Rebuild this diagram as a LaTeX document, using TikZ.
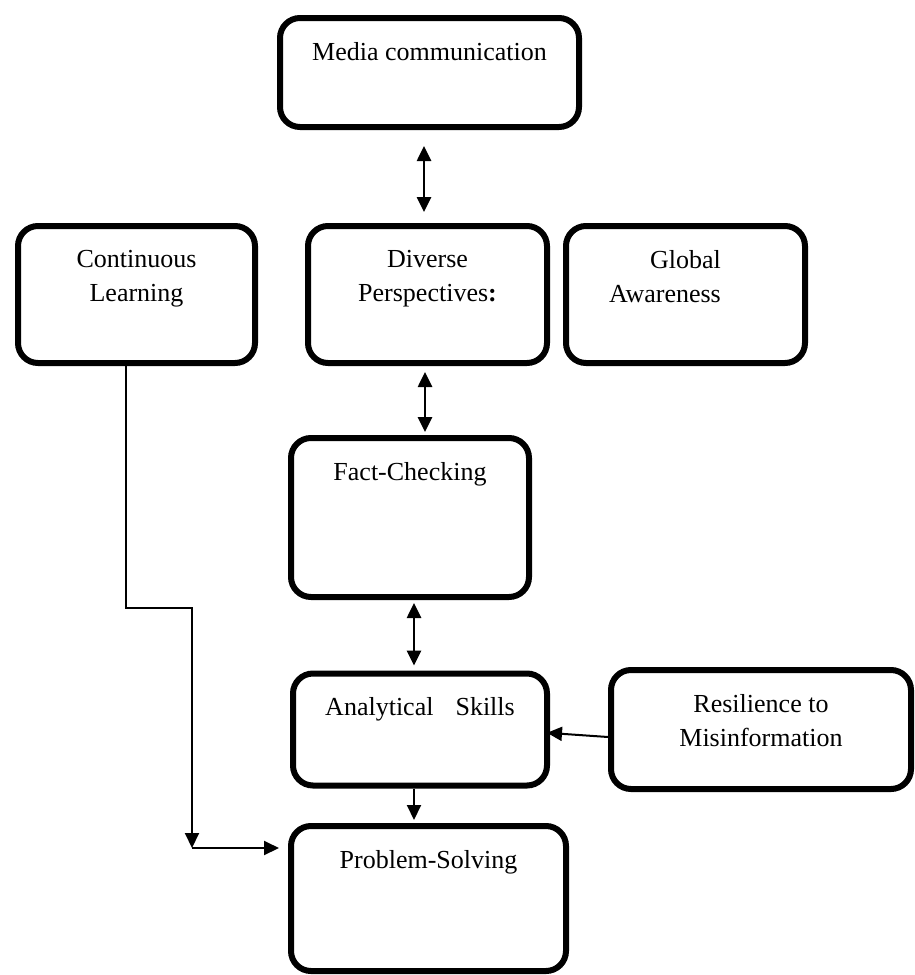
\documentclass[tikz,border=0pt]{standalone}
\usepackage{fontspec}
\setmainfont{Liberation Serif}
\usepackage{tikz}
\newcommand{\cardtext}[3]{\parbox[t][#2][t]{#1}{\centering #3}}
\usetikzlibrary{arrows.meta, positioning}

\begin{document}
\begin{tikzpicture}[x=1pt,y=-1pt,on grid,
    card/.style={draw, line width=6pt, rounded corners=20pt, inner xsep=0pt, inner ysep=24pt,
                 font=\fontsize{26}{34}\selectfont},
    both/.style={{Triangle[length=15pt,width=14pt]}-{Triangle[length=15pt,width=14pt]}, line width=2.6pt},
    tip/.style={-{Triangle[length=15pt,width=14pt]}, line width=2pt}]
    \useasboundingbox (0,0) rectangle (915,975);

    \node[card] (media) at (429.5,72.5) {\cardtext{299pt}{61pt}{Media communication}};
    \node[card] (diverse) [below left=222pt and 2pt of media] {\cardtext{239pt}{89pt}{Diverse\\Perspectives\textbf{:}}};
    \node[card] (learning) [left=291pt of diverse] {\cardtext{237pt}{89pt}{Continuous\\Learning}};
    \node[card] (global) [right=258pt of diverse] {\cardtext{239pt}{89pt}{Global\hspace*{53pt}\\Awareness\hspace*{41pt}}};
    \node[card] (fact) [below left=223pt and 17.5pt of diverse] {\cardtext{238pt}{111pt}{Fact-Checking}};
    \node[card] (analytical) [below right=212pt and 10pt of fact] {\cardtext{254pt}{64pt}{Analytical\hspace{22pt}Skills}};
    \node[card] (resilience) [right=341pt of analytical] {\cardtext{300pt}{71pt}{Resilience to\\Misinformation}};
    \node[card] (problem) [below right=169pt and 8.5pt of analytical] {\cardtext{275pt}{97pt}{Problem-Solving}};
    \coordinate (bend) at (192,848);

    % links
    \draw[both, shorten <=16pt, shorten >=11pt] ([xshift=-5.5pt]media.south) -- ([xshift=-3.5pt]diverse.north);
    \draw[both, shorten <=6pt, shorten >=3pt] ([xshift=-2.5pt]diverse.south) -- ([xshift=15pt]fact.north);
    \draw[both, shorten <=3pt, shorten >=5pt] ([xshift=4pt]fact.south) -- ([xshift=-6pt]analytical.north);
    \draw[tip, shorten >=3pt] ([xshift=-6pt]analytical.south) -- ([xshift=-14.5pt]problem.north);
    \draw[tip, shorten >=-3pt] ([yshift=-7.5pt]resilience.west) -- ([yshift=-3.5pt]analytical.east);
    \draw[tip] ([xshift=-10.5pt]learning.south) -- ++(0,242) -| (bend);
    \draw[tip, shorten >=9pt] (bend) -- (bend -| problem.west);
\end{tikzpicture}
\end{document}
